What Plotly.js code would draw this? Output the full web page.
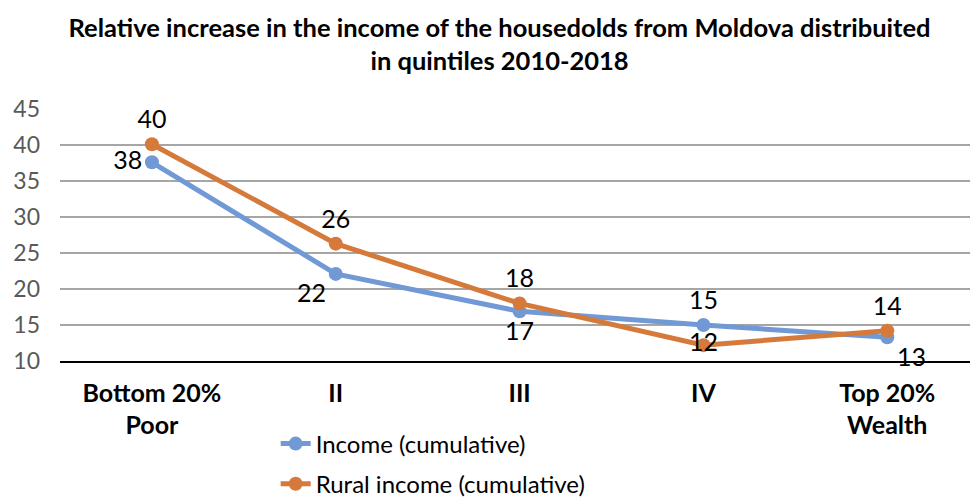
<!DOCTYPE html>
<html>
<head>
<meta charset="utf-8">
<script src="https://cdn.plot.ly/plotly-3.0.1.min.js"></script>
<style>html,body{margin:0;padding:0;background:#fff;}#chart{width:970px;height:504px;}</style>
</head>
<body>
<div id="chart"></div>
<script>
const categories = ["Bottom 20%<br>Poor", "II", "III", "IV", "Top 20%<br>Wealth"];
const incomeValues = [37.6, 22.1, 16.9, 15.0, 13.3];
const incomeLabels = ["38", "22", "17", "15", "13"];
const ruralValues = [40.1, 26.3, 18.0, 12.2, 14.2];
const ruralLabels = ["40", "26", "18", "12", "14"];
const yTicks = [10, 15, 20, 25, 30, 35, 40, 45];

const blue = "#7099d5";
const orange = "#d57a3a";

const traces = [
  {
    x: categories, y: incomeValues, text: incomeLabels,
    name: "Income (cumulative)", type: "scatter", mode: "lines+markers+text",
    line: {color: blue, width: 5}, marker: {color: blue, size: 14},
    textposition: ["middle left", "bottom left", "bottom center", "top center", "bottom right"],
    textfont: {family: "Lato, sans-serif", size: 25, color: "#000"},
    legendgroup: "a", cliponaxis: false
  },
  {
    x: categories, y: ruralValues, text: ruralLabels,
    name: "Rural income (cumulative)", type: "scatter", mode: "lines+markers+text",
    line: {color: orange, width: 5}, marker: {color: orange, size: 14},
    textposition: ["top center", "top center", "top center", "middle center", "top center"],
    textfont: {family: "Lato, sans-serif", size: 25, color: "#000"},
    legendgroup: "b", cliponaxis: false
  }
];

const layout = {
  width: 970, height: 504,
  margin: {l: 60, r: 0, t: 109, b: 143, autoexpand: false},
  paper_bgcolor: "#fff", plot_bgcolor: "#fff",
  font: {family: "Lato, sans-serif", color: "#000"},
  title: {
    text: "<b>Relative increase in the income of the housedolds from Moldova distribuited<br>in quintiles 2010-2018</b>",
    font: {family: "Lato, sans-serif", size: 25.5, color: "#000"},
    x: 0.515, xref: "container", xanchor: "center",
    y: 0.927, yref: "container", yanchor: "middle"
  },
  xaxis: {
    type: "category", range: [-0.5, 4.45],
    showgrid: false, zeroline: false,
    showline: true, linecolor: "#000", linewidth: 1.5,
    ticks: "", ticklabelstandoff: 9,
    tickfont: {family: "Lato, sans-serif", size: 25, color: "#000", weight: "bold"},
    fixedrange: true
  },
  yaxis: {
    range: [10, 45], tickvals: yTicks,
    showgrid: true, gridcolor: "#a6a6a6", gridwidth: 2,
    zeroline: false, showline: false, ticks: "",
    ticklabelstandoff: 19,
    tickfont: {family: "Lato, sans-serif", size: 23, color: "#595959"},
    fixedrange: true
  },
  showlegend: true,
  legend: {
    orientation: "v", x: 0.237, xanchor: "left", y: -0.24, yanchor: "top",
    font: {family: "Lato, sans-serif", size: 24, color: "#000"},
    tracegroupgap: 6, bgcolor: "rgba(0,0,0,0)"
  }
};

Plotly.newPlot("chart", traces, layout, {displayModeBar: false, staticPlot: true});
</script>
</body>
</html>
